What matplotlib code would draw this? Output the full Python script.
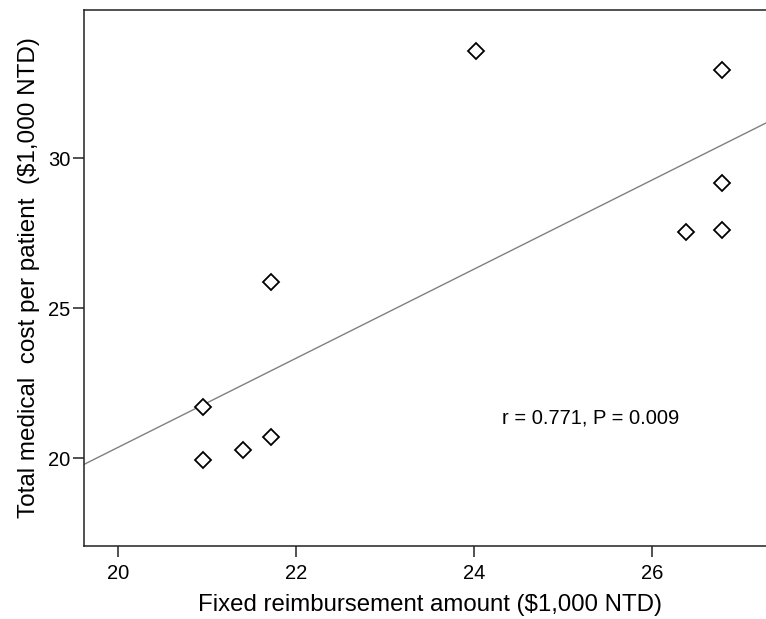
import numpy as np
import matplotlib
matplotlib.use("Agg")
import matplotlib.pyplot as plt

plt.rcParams['font.family'] = ['Liberation Sans', 'DejaVu Sans']

reimbursement = [20.95, 20.95, 21.40, 21.72, 21.72, 24.02, 26.78, 26.78, 26.78, 26.38]
medical_cost = [21.70, 19.95, 20.28, 20.70, 25.89, 33.58, 32.94, 29.17, 27.61, 27.53]
x_ticks = [20, 22, 24, 26]
y_ticks = [20, 25, 30]
annotation = "r = 0.771, P = 0.009"

fig = plt.figure(figsize=(7.66, 6.19), dpi=100)
ax = fig.add_axes([84/766, 1-545.7/619, (776-84)/766, (545.7-10)/619])

xlim = (19.615, 27.39)
ylim = (17.09, 34.94)

slope, intercept = np.polyfit(reimbursement, medical_cost, 1)
xs = np.array(xlim)
ax.plot(xs, slope*xs + intercept, color='#808080', lw=1.0, zorder=1)

ax.plot(reimbursement, medical_cost, linestyle='none', marker='D', ms=8,
        mfc='white', mec='black', mew=1.3, zorder=2)

ax.text(24.31, 21.34, annotation, fontsize=14.5, va='center', ha='left')

ax.set_xlim(*xlim)
ax.set_ylim(*ylim)
ax.set_xticks(x_ticks)
ax.set_yticks(y_ticks)
ax.tick_params(axis='both', direction='out', length=8, width=1.1, labelsize=14.5, color='#222222')
ax.tick_params(axis='x', pad=5)
ax.tick_params(axis='y', pad=2)
for s in ['left', 'bottom', 'top']:
    ax.spines[s].set_linewidth(1.1)
    ax.spines[s].set_color('#222222')
ax.spines['right'].set_visible(False)

ax.set_xlabel("Fixed reimbursement amount ($1,000 NTD)", fontsize=17.3, labelpad=8)
ax.set_ylabel("Total medical  cost per patient  ($1,000 NTD)", fontsize=17.5, labelpad=5.5)

fig.savefig("out.png", dpi=100)
